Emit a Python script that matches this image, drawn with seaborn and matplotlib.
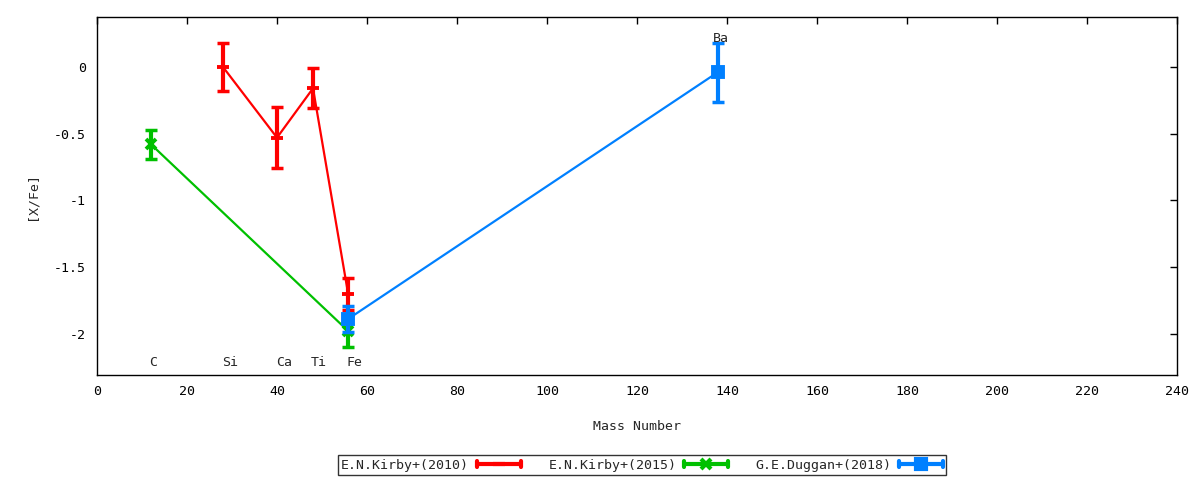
import matplotlib
matplotlib.use("Agg")
import matplotlib.pyplot as plt
import seaborn as sns
import pandas as pd
from matplotlib.lines import Line2D
from matplotlib.legend_handler import HandlerBase

# Kirby et al. (2010): Si, Ca, Ti, Fe
kirby10_mass = [28, 40, 48, 55.8]
kirby10_val = [0.0, -0.53, -0.16, -1.70]
kirby10_err = [0.18, 0.23, 0.15, 0.12]

# Kirby et al. (2015): C, Fe
kirby15_mass = [12, 55.8]
kirby15_val = [-0.58, -1.98]
kirby15_err = [0.11, 0.12]

# Duggan et al. (2018): Fe, Ba
duggan_mass = [55.8, 137.9]
duggan_val = [-1.89, -0.04]
duggan_err = [0.10, 0.22]

elements = ["C", "Si", "Ca", "Ti", "Fe", "Ba"]
element_mass = [12.0, 28.1, 40.1, 47.9, 55.8, 137.3]
element_y = [-2.22, -2.22, -2.22, -2.22, -2.22, 0.21]

series = [
    ("E.N.Kirby+(2010)", kirby10_mass, kirby10_val, kirby10_err, "#ff0000", "_", 9),
    ("E.N.Kirby+(2015)", kirby15_mass, kirby15_val, kirby15_err, "#00c000", "x", 7),
    ("G.E.Duggan+(2018)", duggan_mass, duggan_val, duggan_err, "#0080ff", "s", 7),
]

sns.set_style("white")
plt.rcParams["font.family"] = ["DejaVu Sans Mono"]
plt.rcParams["font.size"] = 9.5

fig = plt.figure(figsize=(12, 4.8), dpi=100)
ax = fig.add_axes([0.0808, 0.2188, 0.9002, 0.7458])


class ErrHandler(HandlerBase):
    # gnuplot-like sample: horizontal bar with end ticks and a point in the middle
    def create_artists(self, legend, orig_handle, xdescent, ydescent,
                       width, height, fontsize, trans):
        c = orig_handle.get_color()
        y = height / 2 - ydescent
        x0, x1 = -xdescent, width - xdescent
        h = height * 0.35
        arts = [
            Line2D([x0, x1], [y, y], color=c, lw=3, solid_capstyle="butt"),
            Line2D([x0, x0], [y - h, y + h], color=c, lw=3),
            Line2D([x1, x1], [y - h, y + h], color=c, lw=3),
            Line2D([(x0 + x1) / 2], [y], color=c, marker=orig_handle.get_marker(),
                   markersize=orig_handle.get_markersize(), mew=3, ls="none"),
        ]
        for a in arts:
            a.set_transform(trans)
        return arts


handles = []
for name, mass, val, err, color, marker, ms in series:
    df = pd.DataFrame({"mass": mass, "val": val})
    sns.lineplot(data=df, x="mass", y="val", ax=ax, color=color, lw=1.6,
                 legend=False, sort=False)
    ax.errorbar(mass, val, yerr=err, fmt="none", ecolor=color, elinewidth=3,
                capsize=4.5, capthick=2.5)
    ax.plot(mass, val, ls="none", marker=marker, color=color, markersize=ms, mew=2.8)
    handles.append(Line2D([], [], color=color, marker=marker, markersize=ms, label=name))

for el, m, y in zip(elements, element_mass, element_y):
    ax.text(m - 0.4, y, el, ha="left", va="center", fontsize=9.5)

ax.set_xlim(0, 240)
ax.set_ylim(-2.31, 0.375)
ax.set_xticks(range(0, 241, 20))
ax.set_yticks([0, -0.5, -1, -1.5, -2])
ax.set_yticklabels(["0", "-0.5", "-1", "-1.5", "-2"])
ax.tick_params(direction="in", top=True, right=True, length=5, width=1,
               labelsize=9.5, colors="black")
ax.tick_params(axis="x", pad=7)
ax.tick_params(axis="y", pad=8)
for s in ax.spines.values():
    s.set_color("black")
    s.set_linewidth(1)

ax.set_xlabel("Mass Number", fontsize=9.5, labelpad=16)
ax.set_ylabel("[X/Fe]", fontsize=9.5, labelpad=11)

leg = fig.legend(handles=handles, loc="center", bbox_to_anchor=(0.535, 0.031),
                 ncol=3, markerfirst=False, frameon=True, fancybox=False,
                 handlelength=3.3, columnspacing=2.1, handletextpad=0.6,
                 borderpad=0.25, borderaxespad=0, fontsize=9.5,
                 handler_map={Line2D: ErrHandler()})
leg.get_frame().set_edgecolor("black")
leg.get_frame().set_linewidth(1)

fig.savefig("out.png", dpi=100)
